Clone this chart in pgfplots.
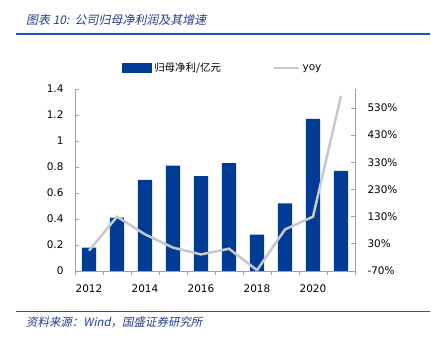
\documentclass[border=0pt]{standalone}
\usepackage{pgfplots}
\pgfplotsset{compat=1.18}
\usepackage{fontspec}
\setmainfont{DejaVu Sans}
\newfontfamily\cjk{Noto Sans CJK SC}
\newfontfamily\cjkit[FakeSlant=0.2]{Noto Sans CJK SC}
\definecolor{barblue}{RGB}{0,60,150}
\definecolor{linegray}{RGB}{200,200,200}
\definecolor{axisgray}{RGB}{160,160,160}
\definecolor{titleblue}{RGB}{35,60,140}
\definecolor{ruleblue}{RGB}{30,90,180}
\begin{document}
\begin{tikzpicture}
\path (0bp,0bp) rectangle (431bp,339bp);
\draw[ruleblue, line width=1.5bp] (16bp,305bp) -- (430bp,305bp);
\draw[ruleblue, line width=1bp] (16bp,27bp) -- (430bp,27bp);
\node[anchor=west, inner sep=0pt, text=titleblue, font=\fontsize{12}{14}\cjkit] at (26bp,319bp) {图表 10:\ \ 公司归母净利润及其增速};
\node[anchor=west, inner sep=0pt, text=titleblue, font=\fontsize{11.5}{14}\cjkit] at (26bp,17bp) {资料来源：Wind，国盛证券研究所};
\begin{axis}[
  at={(75bp,68bp)}, anchor=south west, scale only axis,
  width=280bp, height=182bp,
  xmin=2011.5, xmax=2021.5, ymin=0, ymax=1.4,
  axis x line*=bottom, axis y line*=left,
  axis line style={-, draw=axisgray, line width=0.8bp},
  xtick={2012,2014,2016,2018,2020},
  xticklabels={2012,2014,2016,2018,2020},
  major x tick style={draw=none},
  minor xtick={2011.5,2012.5,2013.5,2014.5,2015.5,2016.5,2017.5,2018.5,2019.5,2020.5,2021.5},
  ytick={0,0.2,0.4,0.6,0.8,1,1.2,1.4},
  yticklabels={0,0.2,0.4,0.6,0.8,1,1.2,1.4},
  tick align=inside, major tick length=4bp, minor tick length=4bp,
  tick style={axisgray, line width=0.8bp},
  ticklabel style={font=\fontsize{10.5}{12}\selectfont},
  yticklabel style={xshift=-8bp},
  xticklabel style={yshift=-6bp},
  ybar, bar width=14.3bp,
  legend columns=2,
  legend style={draw=none, fill=none, at={(0.528,1.115)}, anchor=center,
    font=\fontsize{10.5}{12}\selectfont, /tikz/every even column/.append style={column sep=50bp}},
]
\addplot[fill=barblue, draw=none, legend image code/.code={\fill[barblue] (0bp,-5bp) rectangle (30bp,5bp);}]
  coordinates {(2012,0.18)(2013,0.41)(2014,0.70)(2015,0.81)(2016,0.73)(2017,0.83)(2018,0.28)(2019,0.52)(2020,1.17)(2021,0.77)};
\addlegendentry{\cjk 归母净利/亿元}
\addlegendimage{legend image code/.code={\draw[linegray, line width=2.5bp] (0bp,0bp) -- (25bp,0bp);}}
\addlegendentry{yoy}
\end{axis}
\begin{axis}[
  at={(75bp,68bp)}, anchor=south west, scale only axis,
  width=280bp, height=182bp,
  xmin=2011.5, xmax=2021.5, ymin=-70, ymax=600,
  axis y line*=right, axis x line=none,
  axis line style={-, draw=axisgray, line width=0.8bp},
  ytick={-70,30,130,230,330,430,530},
  yticklabels={-70\%,30\%,130\%,230\%,330\%,430\%,530\%},
  tick align=inside, major tick length=4bp,
  tick style={axisgray, line width=0.8bp},
  ticklabel style={font=\fontsize{10.5}{12}\selectfont},
  yticklabel style={xshift=9bp},
]
\addplot[linegray, line width=2.5bp, mark=none]
  coordinates {(2012,5)(2013,130)(2014,65)(2015,16)(2016,-9)(2017,12)(2018,-67)(2019,83)(2020,130)(2021,575)};
\end{axis}
\end{tikzpicture}
\end{document}
